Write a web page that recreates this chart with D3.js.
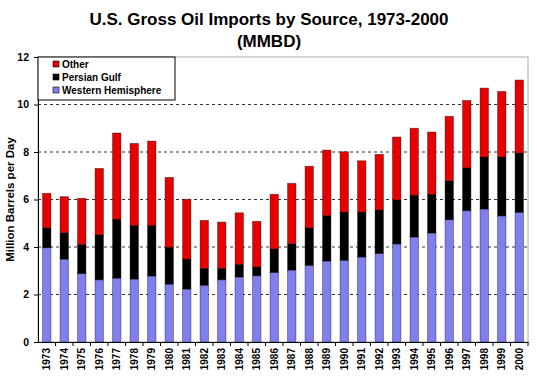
<!DOCTYPE html>
<meta charset="utf-8">
<style>
body { margin: 0; background: #fff; }
svg text { font-family: Arial, "Liberation Sans", sans-serif; font-weight: bold; }
.grid line { stroke: #333; stroke-dasharray: 3,3; }
</style>
<body>
<script src="https://d3js.org/d3.v7.min.js"></script>
<script>

var years = [1973,1974,1975,1976,1977,1978,1979,1980,1981,1982,1983,1984,1985,1986,
             1987,1988,1989,1990,1991,1992,1993,1994,1995,1996,1997,1998,1999,2000];
// Western Hemisphere, Persian Gulf, Other (million barrels per day)
var western = [3.97,3.49,2.88,2.62,2.69,2.65,2.78,2.44,2.23,2.39,2.62,2.74,2.79,2.93,
               3.03,3.23,3.41,3.44,3.58,3.73,4.13,4.42,4.59,5.15,5.53,5.60,5.31,5.46];
var gulf    = [0.84,1.11,1.23,1.90,2.48,2.26,2.13,1.55,1.26,0.71,0.48,0.53,0.37,0.99,
               1.11,1.58,1.91,2.03,1.89,1.83,1.85,1.76,1.63,1.64,1.80,2.19,2.48,2.50];
var other   = [1.45,1.52,1.94,2.79,3.63,3.45,3.55,2.94,2.52,2.02,1.95,2.17,1.92,2.30,
               2.54,2.59,2.76,2.54,2.16,2.34,2.65,2.82,2.62,2.71,2.84,2.90,2.76,3.07];
var seriesNames = ["Western Hemisphere", "Persian Gulf", "Other"];
var seriesColors = ["#7f7fee", "#000000", "#e60000"];
var yTicks = [0, 2, 4, 6, 8, 10, 12];

var width = 537, height = 379;
var margin = {top: 57, right: 9, bottom: 37, left: 38};

var svg = d3.select("body").append("svg")
    .attr("width", width)
    .attr("height", height);

var rows = years.map(function(y, i) {
  return {year: y, "Western Hemisphere": western[i], "Persian Gulf": gulf[i], "Other": other[i]};
});
var stacked = d3.stack().keys(seriesNames)(rows);

var x = d3.scaleBand()
    .domain(years)
    .range([margin.left, width - margin.right])
    .paddingInner(0.52)
    .paddingOuter(0.26);

var y = d3.scaleLinear()
    .domain([0, 12])
    .range([height - margin.bottom, margin.top]);

// title
svg.append("text")
    .attr("x", 269).attr("y", 25)
    .attr("text-anchor", "middle")
    .style("font-size", "17px")
    .text("U.S. Gross Oil Imports by Source, 1973-2000");
svg.append("text")
    .attr("x", 269).attr("y", 47)
    .attr("text-anchor", "middle")
    .style("font-size", "17px")
    .text("(MMBD)");

// plot frame (top/right)
svg.append("rect")
    .attr("x", margin.left).attr("y", margin.top)
    .attr("width", width - margin.left - margin.right)
    .attr("height", height - margin.top - margin.bottom)
    .attr("fill", "none")
    .attr("stroke", "#aaa");

// gridlines
svg.append("g").attr("class", "grid")
  .selectAll("line")
  .data(yTicks.filter(function(t) { return t > 0 && t < 12; }))
  .enter().append("line")
    .attr("x1", margin.left).attr("x2", width - margin.right)
    .attr("y1", function(d) { return y(d); })
    .attr("y2", function(d) { return y(d); });

// bars
svg.append("g")
  .selectAll("g")
  .data(stacked)
  .enter().append("g")
    .attr("fill", function(d, i) { return seriesColors[i]; })
  .selectAll("rect")
  .data(function(d) { return d; })
  .enter().append("rect")
    .attr("x", function(d) { return x(d.data.year); })
    .attr("y", function(d) { return y(d[1]); })
    .attr("width", x.bandwidth())
    .attr("height", function(d) { return y(d[0]) - y(d[1]); })
    .attr("stroke", "#000")
    .attr("stroke-opacity", 0.45)
    .attr("stroke-width", 0.8);

// y axis
var yAxis = svg.append("g")
    .attr("transform", "translate(" + margin.left + ",0)")
    .call(d3.axisLeft(y).tickValues(yTicks).tickSize(4).tickPadding(5).tickFormat(d3.format("d")));
yAxis.selectAll("text").style("font-size", "10.5px").attr("fill", "#000");
yAxis.select(".domain").attr("stroke", "#000");

// x axis
var xAxis = svg.append("g")
    .attr("transform", "translate(0," + (height - margin.bottom) + ")")
    .call(d3.axisBottom(x).tickSize(4).tickSizeOuter(0));
xAxis.select(".domain").attr("stroke", "#000");
xAxis.selectAll(".tick line").attr("transform", "translate(" + (x.step() / 2) + ",0)");
xAxis.selectAll("text")
    .style("font-size", "10px")
    .attr("fill", "#000")
    .attr("text-anchor", "end")
    .attr("transform", "rotate(-90)")
    .attr("x", -6)
    .attr("y", 0)
    .attr("dy", "0.35em");

// y label
svg.append("text")
    .attr("transform", "translate(14," + ((margin.top + height - margin.bottom) / 2) + ") rotate(-90)")
    .attr("text-anchor", "middle")
    .style("font-size", "11.5px")
    .text("Million Barrels per Day");

// legend
var legend = svg.append("g");
legend.append("rect")
    .attr("x", 38).attr("y", 57)
    .attr("width", 137).attr("height", 43)
    .attr("fill", "#fff")
    .attr("stroke", "#000");
var legendOrder = [2, 1, 0];
legendOrder.forEach(function(s, i) {
  legend.append("rect")
      .attr("x", 53).attr("y", 61 + i * 13)
      .attr("width", 6).attr("height", 6)
      .attr("fill", seriesColors[s])
      .attr("stroke", "#000").attr("stroke-width", 0.6);
  legend.append("text")
      .attr("x", 62).attr("y", 68 + i * 13)
      .style("font-size", "10px")
      .text(seriesNames[s]);
});

</script>
</body>
